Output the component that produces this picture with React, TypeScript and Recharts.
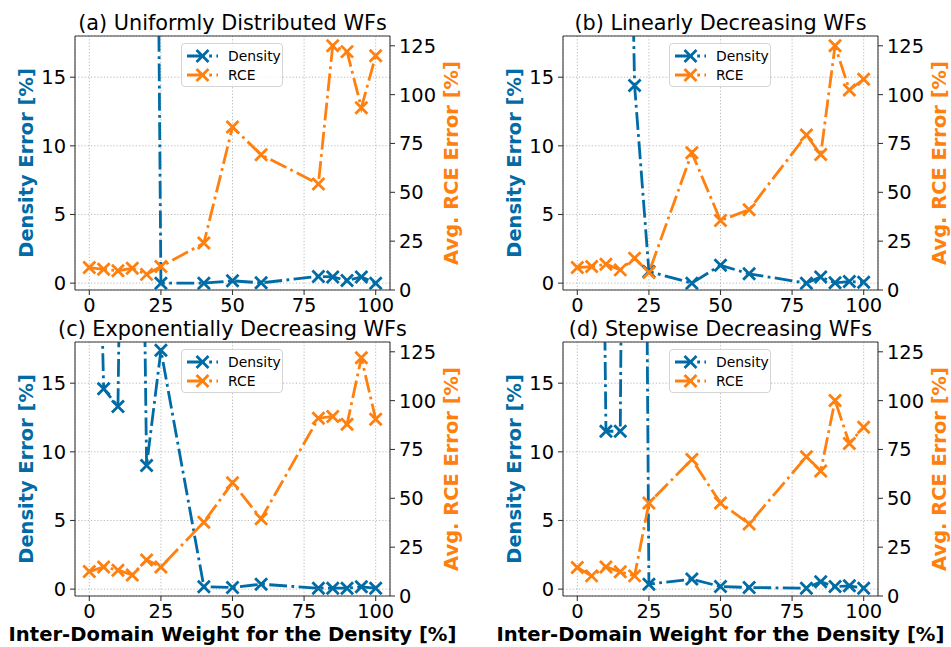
import React from 'react';
import { LineChart, Line, XAxis, YAxis, CartesianGrid, Legend } from 'recharts';

const weights = [0, 5, 10, 15, 20, 25, 40, 50, 60, 80, 85, 90, 95, 100];

// (a) uniformly distributed WFs
const densityA = [160, 150, 170, 140, 130, 0.0, 0.0, 0.17, 0.02, 0.49, 0.45, 0.2, 0.45, 0.0];
const rceA = [11.5, 10.6, 9.9, 11.1, 8.0, 12.0, 24.0, 83.4, 69.2, 54.3, 125.0, 122.0, 93.3, 119.9];

// (b) linearly decreasing WFs
const densityB = [100, 95, 90, 70, 14.4, 0.85, 0.0, 1.3, 0.68, 0.0, 0.45, 0.02, 0.12, 0.07];
const rceB = [11.5, 12.0, 13.2, 10.3, 16.3, 8.9, 70.2, 35.6, 41.1, 79.3, 69.3, 125.0, 102.4, 107.9];

// (c) exponentially decreasing WFs
const densityC = [60, 14.6, 13.3, 90, 9.0, 17.4, 0.17, 0.12, 0.36, 0.07, 0.07, 0.07, 0.17, 0.07];
const rceC = [12.5, 14.9, 13.2, 10.8, 18.4, 14.9, 37.8, 58.0, 39.5, 91.0, 91.9, 87.9, 121.9, 90.5];

// (d) stepwise decreasing WFs
const densityD = [80, 105, 11.5, 11.5, 150, 0.36, 0.73, 0.19, 0.12, 0.07, 0.53, 0.19, 0.24, 0.07];
const rceD = [14.6, 10.3, 14.9, 12.4, 10.3, 47.6, 69.9, 47.6, 36.9, 71.3, 64.0, 100.1, 78.1, 86.4];

const xTicks = [0, 25, 50, 75, 100];
const densityTicks = [0, 5, 10, 15];
const rceTicks = [0, 25, 50, 75, 100, 125];

const BLUE = '#006BA4';
const ORANGE = '#FF800E';
const FONT = 'DejaVu Sans, Verdana, sans-serif';
const FS = 19.44;
const TITLE_FS = 20.8;
const DASH = '17.8 4.4 2.8 4.4';
const PLOT_H = 254;

function xMark(color: string) {
  return (p: any) => {
    const { cx, cy, index } = p;
    if (cx == null || cy == null) return <g key={index} />;
    return (
      <path
        key={index}
        d={`M${cx - 6},${cy - 6}L${cx + 6},${cy + 6}M${cx - 6},${cy + 6}L${cx + 6},${cy - 6}`}
        stroke={color}
        strokeWidth={2.8}
        fill="none"
      />
    );
  };
}

function LegendBox() {
  const rows = [
    { name: 'Density', color: BLUE },
    { name: 'RCE', color: ORANGE },
  ];
  return (
    <div
      style={{
        width: 102,
        height: 44,
        border: '1px solid #d5d5d5',
        borderRadius: 4,
        background: 'rgba(255,255,255,0.8)',
        boxSizing: 'border-box',
        fontFamily: FONT,
        fontSize: 13.9,
        paddingTop: 2,
      }}
    >
      {rows.map((r) => (
        <div key={r.name} style={{ display: 'flex', alignItems: 'center', height: 19.5 }}>
          <svg width={40} height={14} style={{ marginLeft: 3 }}>
            <line x1={2} y1={7} x2={33} y2={7} stroke={r.color} strokeWidth={2.8} strokeDasharray={DASH} />
            <path d="M11.5,1L23.5,13M11.5,13L23.5,1" stroke={r.color} strokeWidth={2.8} fill="none" />
          </svg>
          <span style={{ marginLeft: 3, color: '#000' }}>{r.name}</span>
        </div>
      ))}
    </div>
  );
}

type PanelProps = {
  title: string;
  density: number[];
  rce: number[];
  left: number;
  top: number;
  height: number;
  showXLabel: boolean;
};

function Panel({ title, density, rce, left, top, height, showXLabel }: PanelProps) {
  const data = weights.map((w, i) => ({ x: w, density: density[i], rce: rce[i] }));
  const xAxisHeight = height - 36 - PLOT_H;
  const tick = { fontSize: FS, fill: '#000' };
  const axisStroke = { stroke: '#3a3a3a', strokeWidth: 1.1 };

  return (
    <div style={{ position: 'absolute', left, top }}>
      <LineChart width={463} height={height} data={data} margin={{ top: 35, right: 0, bottom: 0, left: 0 }}>
        <CartesianGrid yAxisId="left" stroke="#a8a8a8" strokeWidth={0.8} strokeDasharray="1.2 2" />
        <XAxis
          dataKey="x"
          type="number"
          domain={[-5, 105]}
          ticks={xTicks}
          allowDataOverflow
          height={xAxisHeight}
          tick={tick}
          tickSize={5}
          tickMargin={3}
          tickLine={axisStroke}
          axisLine={axisStroke}
          label={
            showXLabel
              ? (props: any) => {
                  const vb = props.viewBox;
                  return (
                    <text
                      x={vb.x + vb.width / 2}
                      y={vb.y + 45}
                      textAnchor="middle"
                      fontWeight="bold"
                      fontSize={19.6}
                      fill="#000"
                    >
                      Inter-Domain Weight for the Density [%]
                    </text>
                  );
                }
              : undefined
          }
        />
        <XAxis
          xAxisId="top"
          orientation="top"
          dataKey="x"
          type="number"
          domain={[-5, 105]}
          allowDataOverflow
          height={1}
          tick={false}
          tickLine={false}
          axisLine={axisStroke}
          label={(props: any) => {
            const vb = props.viewBox;
            return (
              <text
                x={vb.x + vb.width / 2}
                y={vb.y + vb.height - 6}
                textAnchor="middle"
                fontSize={TITLE_FS}
                fill="#000"
              >
                {title}
              </text>
            );
          }}
        />
        <YAxis
          yAxisId="left"
          domain={[-0.5, 18]}
          ticks={densityTicks}
          allowDataOverflow
          width={75}
          tick={tick}
          tickSize={5}
          tickMargin={4}
          tickLine={axisStroke}
          axisLine={axisStroke}
          label={(props: any) => {
            const vb = props.viewBox;
            const cx = vb.x + 33;
            const cy = vb.y + vb.height / 2;
            return (
              <text
                x={cx}
                y={cy}
                transform={`rotate(-90 ${cx} ${cy})`}
                textAnchor="middle"
                fontWeight="bold"
                fontSize={FS}
                fill={BLUE}
              >
                Density Error [%]
              </text>
            );
          }}
        />
        <YAxis
          yAxisId="right"
          orientation="right"
          domain={[0, 130]}
          ticks={rceTicks}
          allowDataOverflow
          width={73}
          tick={tick}
          tickSize={5}
          tickMargin={4}
          tickLine={axisStroke}
          axisLine={axisStroke}
          label={(props: any) => {
            const vb = props.viewBox;
            const cx = vb.x + 68;
            const cy = vb.y + vb.height / 2;
            return (
              <text
                x={cx}
                y={cy}
                transform={`rotate(-90 ${cx} ${cy})`}
                textAnchor="middle"
                fontWeight="bold"
                fontSize={FS}
                fill={ORANGE}
              >
                Avg. RCE Error [%]
              </text>
            );
          }}
        />
        <Line
          yAxisId="left"
          dataKey="density"
          name="Density"
          stroke={BLUE}
          strokeWidth={2.8}
          strokeDasharray={DASH}
          dot={xMark(BLUE)}
          activeDot={false}
          isAnimationActive={false}
        />
        <Line
          yAxisId="right"
          dataKey="rce"
          name="RCE"
          stroke={ORANGE}
          strokeWidth={2.8}
          strokeDasharray={DASH}
          dot={xMark(ORANGE)}
          activeDot={false}
          isAnimationActive={false}
        />
        <Legend
          layout="horizontal"
          verticalAlign="middle"
          align="center"
          content={() => <LegendBox />}
          wrapperStyle={{ position: 'absolute', left: 181, top: 43, width: 102, height: 44 }}
        />
      </LineChart>
    </div>
  );
}

export default function App() {
  return (
    <div
      style={{
        position: 'absolute',
        left: 0,
        top: 0,
        width: 951,
        height: 647,
        overflow: 'hidden',
        background: '#fff',
        fontFamily: FONT,
      }}
    >
      <Panel title="(a) Uniformly Distributed WFs" density={densityA} rce={rceA} left={0} top={0} height={320} showXLabel={false} />
      <Panel title="(b) Linearly Decreasing WFs" density={densityB} rce={rceB} left={488} top={0} height={320} showXLabel={false} />
      <Panel title="(c) Exponentially Decreasing WFs" density={densityC} rce={rceC} left={0} top={306} height={341} showXLabel />
      <Panel title="(d) Stepwise Decreasing WFs" density={densityD} rce={rceD} left={488} top={306} height={341} showXLabel />
    </div>
  );
}
